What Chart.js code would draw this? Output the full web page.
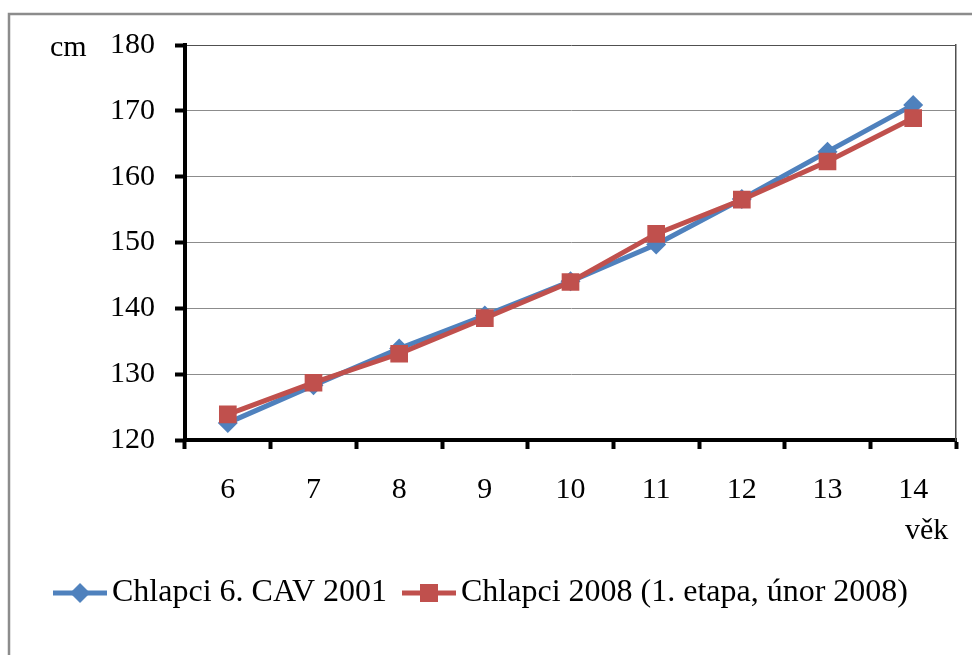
<!DOCTYPE html>
<html>
<head>
<meta charset="utf-8">
<script src="https://cdn.jsdelivr.net/npm/chart.js@4/dist/chart.umd.min.js"></script>
<style>
  html, body { margin: 0; padding: 0; background: #fff; }
  #wrap { width: 972px; height: 655px; position: relative; }
</style>
</head>
<body>
<div id="wrap"><canvas id="c" width="972" height="655"></canvas></div>
<script>
// Age of boys (years)
const ages = ['6', '7', '8', '9', '10', '11', '12', '13', '14'];
// Mean body height, cm
const cav2001 = [122.6, 128.3, 133.9, 138.9, 144.1, 149.7, 156.6, 163.8, 170.9];
const boys2008 = [123.9, 128.7, 133.1, 138.5, 144.0, 151.3, 156.5, 162.3, 168.9];
const seriesNames = ['Chlapci 6. CAV 2001', 'Chlapci 2008 (1. etapa, únor 2008)'];
const yTicks = [120, 130, 140, 150, 160, 170, 180];

const BLUE = '#4F81BD';
const RED = '#C0504D';
const FONT = '"Liberation Serif", "Times New Roman", serif';

// Small line+marker swatches for the legend
function swatch(color, kind) {
  const c = document.createElement('canvas');
  c.width = 54; c.height = 22;
  const g = c.getContext('2d');
  g.strokeStyle = color; g.lineWidth = 5;
  g.beginPath(); g.moveTo(0, 11); g.lineTo(54, 11); g.stroke();
  g.fillStyle = color;
  g.beginPath();
  if (kind === 'diamond') {
    g.moveTo(27, 1); g.lineTo(37, 11); g.lineTo(27, 21); g.lineTo(17, 11);
  } else {
    g.rect(18, 2, 18, 18);
  }
  g.closePath(); g.fill();
  return c;
}
const swatches = [swatch(BLUE, 'diamond'), swatch(RED, 'square')];

const frame = {
  id: 'frame',
  beforeDraw(chart) {
    const ctx = chart.ctx;
    ctx.save();
    ctx.strokeStyle = '#8c8c8c';
    ctx.lineWidth = 2.5;
    ctx.beginPath();
    ctx.moveTo(9, 700); ctx.lineTo(9, 14); ctx.lineTo(1000, 14);
    ctx.stroke();
    ctx.restore();
  },
  afterDraw(chart) {
    const ctx = chart.ctx;
    ctx.save();
    ctx.fillStyle = '#000';
    ctx.font = '30px ' + FONT;
    ctx.textBaseline = 'middle';
    ctx.textAlign = 'left';
    ctx.fillText('cm', 50, 48);
    ctx.fillText('věk', 905, 531);
    ctx.restore();
  }
};

new Chart(document.getElementById('c'), {
  type: 'line',
  data: {
    labels: ages,
    datasets: [
      {
        label: seriesNames[0], data: cav2001, order: 2,
        borderColor: BLUE, backgroundColor: BLUE, borderWidth: 5,
        pointStyle: 'rectRot', pointRadius: 10, pointBorderWidth: 0,
        pointBackgroundColor: BLUE, tension: 0
      },
      {
        label: seriesNames[1], data: boys2008, order: 1,
        borderColor: RED, backgroundColor: RED, borderWidth: 5,
        pointStyle: 'rect', pointRadius: 12.5, pointBorderWidth: 0,
        pointBackgroundColor: RED, tension: 0
      }
    ]
  },
  options: {
    responsive: false,
    animation: false,
    events: [],
    layout: { padding: { left: 0, right: 0, top: 45, bottom: 36 } },
    scales: {
      x: {
        offset: true,
        grid: { display: true, drawOnChartArea: false, offset: true, tickLength: 9, tickColor: '#000', tickWidth: 4 },
        border: { display: true, color: '#000', width: 4 },
        ticks: { color: '#000', font: { family: FONT, size: 30 }, padding: 23, maxRotation: 0 },
        afterFit(s) { s.height = 111; }
      },
      y: {
        min: 120, max: 180,
        afterBuildTicks(s) { s.ticks = yTicks.map(v => ({ value: v })); },
        grid: {
          color: c => (c.tick && c.tick.value === 180) ? '#505050' : '#8c8c8c',
          lineWidth: 1, tickLength: 10, tickColor: '#000', tickWidth: 4
        },
        border: { display: true, color: '#000', width: 4 },
        ticks: { color: '#000', font: { family: FONT, size: 30 }, padding: 20 },
        afterFit(s) { s.width = 185; }
      },
      y2: {
        position: 'right',
        grid: { drawOnChartArea: false, drawTicks: false },
        border: { display: true, color: '#505050', width: 1.5 },
        ticks: { display: false },
        afterFit(s) { s.width = 16; }
      }
    },
    plugins: {
      tooltip: { enabled: false },
      legend: {
        position: 'bottom',
        labels: {
          usePointStyle: true,
          pointStyleWidth: 32,
          padding: 26,
          color: '#000',
          font: { family: FONT, size: 32 },
          generateLabels(chart) {
            return chart.data.datasets.map((d, i) => ({
              text: d.label, datasetIndex: i, pointStyle: swatches[i],
              fillStyle: d.borderColor, strokeStyle: d.borderColor, lineWidth: 0, hidden: false
            }));
          }
        }
      }
    }
  },
  plugins: [frame]
});
</script>
</body>
</html>
